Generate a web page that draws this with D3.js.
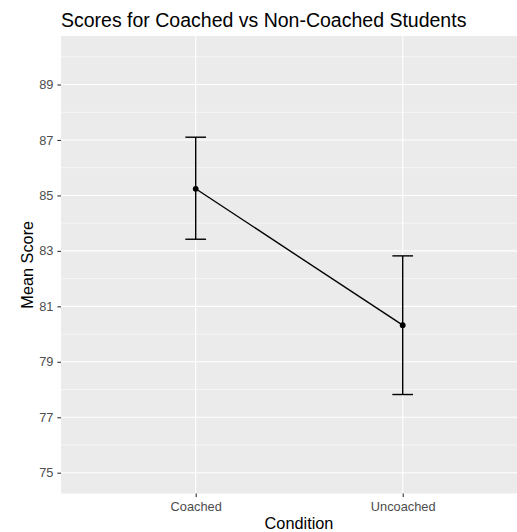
<!DOCTYPE html>
<html>
<head>
<meta charset="utf-8">
<script src="https://cdn.jsdelivr.net/npm/d3@7"></script>
<style>
  body { margin: 0; background: #fff; }
  svg { display: block; font-family: "Liberation Sans", Arial, sans-serif; }
</style>
</head>
<body>
<script>
// data
const conditions = ['Coached', 'Uncoached'];
const means      = [85.24, 80.32];
const upper      = [87.10, 82.82];
const lower      = [83.42, 77.82];
const yTicks     = [75, 77, 79, 81, 83, 85, 87, 89];
const yMinor     = [76, 78, 80, 82, 84, 86, 88, 90];

const width = 517, height = 532;
// panel box; the right side runs past the window like in the reference crop
const panel = { left: 61, top: 36, right: 537, bottom: 493.5 };

const svg = d3.select('body').append('svg')
    .attr('width', width)
    .attr('height', height);

const y = d3.scaleLinear()
    .domain([74.25, 90.75])
    .range([panel.bottom, panel.top]);

// discrete axis: points sit 0.65 step in from the panel edges
const x = d3.scalePoint()
    .domain(conditions)
    .range([195.7, 402.7]);

svg.append('rect')
    .attr('x', panel.left)
    .attr('y', panel.top)
    .attr('width', panel.right - panel.left)
    .attr('height', panel.bottom - panel.top)
    .attr('fill', '#EBEBEB');

const grid = svg.append('g');
grid.selectAll('.minor').data(yMinor).join('line')
    .attr('x1', panel.left).attr('x2', panel.right)
    .attr('y1', d => y(d)).attr('y2', d => y(d))
    .attr('stroke', '#fff').attr('stroke-width', 0.55);
grid.selectAll('.major').data(yTicks).join('line')
    .attr('x1', panel.left).attr('x2', panel.right)
    .attr('y1', d => y(d)).attr('y2', d => y(d))
    .attr('stroke', '#fff').attr('stroke-width', 1.1);
grid.selectAll('.vmajor').data(conditions).join('line')
    .attr('x1', d => x(d)).attr('x2', d => x(d))
    .attr('y1', panel.top).attr('y2', panel.bottom)
    .attr('stroke', '#fff').attr('stroke-width', 1.1);

// axes
const yAxis = svg.append('g')
    .attr('transform', `translate(${panel.left},0)`)
    .call(d3.axisLeft(y).tickValues(yTicks).tickSize(3.6).tickPadding(4));
const xAxis = svg.append('g')
    .attr('transform', `translate(0,${panel.bottom})`)
    .call(d3.axisBottom(x).tickSize(3.6).tickPadding(4.5));

[yAxis, xAxis].forEach(g => {
  g.select('.domain').remove();
  g.selectAll('.tick line').attr('stroke', '#333').attr('stroke-width', 1.1);
  g.selectAll('.tick text')
      .attr('fill', '#4D4D4D')
      .style('font-size', '12.8px')
      .style('font-family', '"Liberation Sans", Arial, sans-serif');
});

// line + error bars + points
const line = d3.line()
    .x((d, i) => x(conditions[i]))
    .y(d => y(d));

svg.append('path')
    .datum(means)
    .attr('d', line)
    .attr('fill', 'none')
    .attr('stroke', '#000')
    .attr('stroke-width', 1.4);

const capHalf = 0.05 * (x(conditions[1]) - x(conditions[0]));
const bars = svg.append('g')
    .attr('stroke', '#000')
    .attr('stroke-width', 1.4);
conditions.forEach((c, i) => {
  bars.append('line')
      .attr('x1', x(c)).attr('x2', x(c))
      .attr('y1', y(upper[i])).attr('y2', y(lower[i]));
  bars.append('line')
      .attr('x1', x(c) - capHalf).attr('x2', x(c) + capHalf)
      .attr('y1', y(upper[i])).attr('y2', y(upper[i]));
  bars.append('line')
      .attr('x1', x(c) - capHalf).attr('x2', x(c) + capHalf)
      .attr('y1', y(lower[i])).attr('y2', y(lower[i]));
});

svg.append('g').selectAll('circle').data(means).join('circle')
    .attr('cx', (d, i) => x(conditions[i]))
    .attr('cy', d => y(d))
    .attr('r', 2.9)
    .attr('fill', '#000');

// labels
svg.append('text')
    .attr('x', panel.left)
    .attr('y', 26.5)
    .attr('font-size', 19.5)
    .attr('fill', '#000')
    .text('Scores for Coached vs Non-Coached Students');

svg.append('text')
    .attr('x', (panel.left + panel.right) / 2)
    .attr('y', 529)
    .attr('text-anchor', 'middle')
    .attr('font-size', 16.3)
    .attr('fill', '#000')
    .text('Condition');

svg.append('text')
    .attr('transform', `translate(33,${(panel.top + panel.bottom) / 2}) rotate(-90)`)
    .attr('text-anchor', 'middle')
    .attr('font-size', 16.3)
    .attr('fill', '#000')
    .text('Mean Score');
</script>
</body>
</html>
